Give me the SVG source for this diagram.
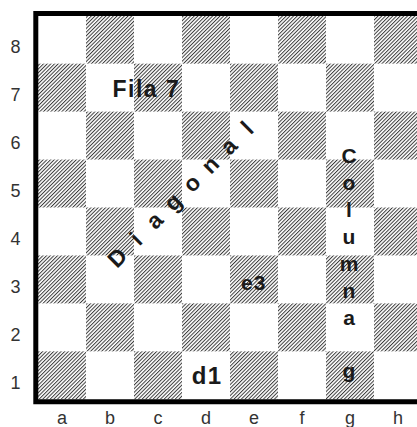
<svg xmlns="http://www.w3.org/2000/svg" width="417" height="427" viewBox="0 0 417 427">
<style>
.lbl{font-family:"Liberation Sans",Arial,sans-serif;font-size:18px;fill:#333;text-anchor:middle}
.b{font-family:"Liberation Sans",Arial,sans-serif;font-weight:bold;fill:#1a1a1a}
.dk{fill:url(#hatch)}
</style>
<defs>
<pattern id="hatch" width="2.6" height="10" patternUnits="userSpaceOnUse" patternTransform="rotate(45)">
<rect width="1" height="10" fill="#3a3a3a"/>
</pattern>
</defs>
<rect width="417" height="427" fill="#fff"/>
<g id="board">
<g id="dark-squares">
<rect class="dk" x="86" y="15.7" width="48" height="47.95"/><rect class="dk" x="182" y="15.7" width="48" height="47.95"/><rect class="dk" x="278" y="15.7" width="48" height="47.95"/><rect class="dk" x="374" y="15.7" width="48" height="47.95"/>
<rect class="dk" x="38" y="63.65" width="48" height="47.95"/><rect class="dk" x="134" y="63.65" width="48" height="47.95"/><rect class="dk" x="230" y="63.65" width="48" height="47.95"/><rect class="dk" x="326" y="63.65" width="48" height="47.95"/>
<rect class="dk" x="86" y="111.6" width="48" height="47.95"/><rect class="dk" x="182" y="111.6" width="48" height="47.95"/><rect class="dk" x="278" y="111.6" width="48" height="47.95"/><rect class="dk" x="374" y="111.6" width="48" height="47.95"/>
<rect class="dk" x="38" y="159.55" width="48" height="47.95"/><rect class="dk" x="134" y="159.55" width="48" height="47.95"/><rect class="dk" x="230" y="159.55" width="48" height="47.95"/><rect class="dk" x="326" y="159.55" width="48" height="47.95"/>
<rect class="dk" x="86" y="207.5" width="48" height="47.95"/><rect class="dk" x="182" y="207.5" width="48" height="47.95"/><rect class="dk" x="278" y="207.5" width="48" height="47.95"/><rect class="dk" x="374" y="207.5" width="48" height="47.95"/>
<rect class="dk" x="38" y="255.45" width="48" height="47.95"/><rect class="dk" x="134" y="255.45" width="48" height="47.95"/><rect class="dk" x="230" y="255.45" width="48" height="47.95"/><rect class="dk" x="326" y="255.45" width="48" height="47.95"/>
<rect class="dk" x="86" y="303.4" width="48" height="47.95"/><rect class="dk" x="182" y="303.4" width="48" height="47.95"/><rect class="dk" x="278" y="303.4" width="48" height="47.95"/><rect class="dk" x="374" y="303.4" width="48" height="47.95"/>
<rect class="dk" x="38" y="351.35" width="48" height="47.95"/><rect class="dk" x="134" y="351.35" width="48" height="47.95"/><rect class="dk" x="230" y="351.35" width="48" height="47.95"/><rect class="dk" x="326" y="351.35" width="48" height="47.95"/>
</g>
<path id="border" d="M420,13.5 H35.8 V401.8 H420" fill="none" stroke="#000" stroke-width="5" stroke-linejoin="miter"/>
</g>
<g id="rank-labels" class="lbl">
<text x="15.5" y="53">8</text><text x="15.5" y="101">7</text><text x="15.5" y="149">6</text><text x="15.5" y="197">5</text>
<text x="15.5" y="245">4</text><text x="15.5" y="293">3</text><text x="15.5" y="341">2</text><text x="15.5" y="389">1</text>
</g>
<g id="file-labels" class="lbl">
<text x="62" y="424">a</text><text x="110" y="424">b</text><text x="158" y="424">c</text><text x="206" y="424">d</text>
<text x="254" y="424">e</text><text x="302" y="424">f</text><text x="350" y="424">g</text><text x="398" y="424">h</text>
</g>
<g id="annotations">
<text id="fila7" class="b" x="112.5" y="96.7" font-size="23" letter-spacing="1.5">Fila 7</text>
<text id="d1" class="b" x="191.7" y="384.3" font-size="24" letter-spacing="1.5">d1</text>
<text id="e3" class="b" x="241" y="290" font-size="21" letter-spacing="1">e3</text>
<text id="diagonal" class="b" font-size="23" text-anchor="middle" transform="translate(193,193) rotate(-45)"><tspan x="-99" y="0">D</tspan><tspan x="-72.8" y="0">i</tspan><tspan x="-46.6" y="0">a</tspan><tspan x="-20.4" y="0">g</tspan><tspan x="5.8" y="0">o</tspan><tspan x="32" y="0">n</tspan><tspan x="58.2" y="0">a</tspan><tspan x="84.4" y="0">l</tspan></text>
<text id="columna" class="b" font-size="21" text-anchor="middle"><tspan x="349" y="163">C</tspan><tspan x="349" y="190">o</tspan><tspan x="349" y="217">l</tspan><tspan x="349" y="244">u</tspan><tspan x="349" y="270.5">m</tspan><tspan x="349" y="297.5">n</tspan><tspan x="349" y="324.5">a</tspan><tspan x="349" y="378">g</tspan></text>
</g>
</svg>
